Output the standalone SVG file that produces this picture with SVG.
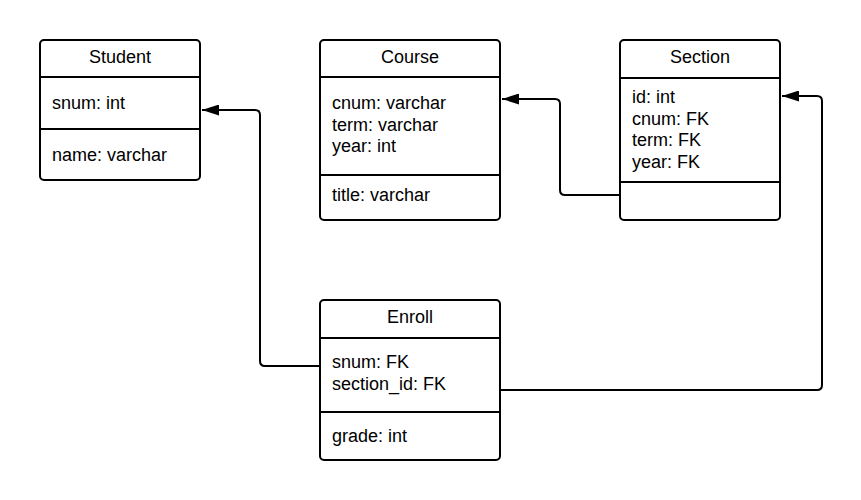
<svg xmlns="http://www.w3.org/2000/svg" width="861" height="500" viewBox="0 0 861 500">
<style>
.box{fill:#fff;stroke:#000;stroke-width:2}
.div{stroke:#000;stroke-width:2}
.t{font-family:"Liberation Sans",Arial,sans-serif;font-size:18px;fill:#000}
.h{text-anchor:middle}
.c{fill:none;stroke:#000;stroke-width:2}
</style>
<defs>
<marker id="arr" markerUnits="userSpaceOnUse" markerWidth="17" markerHeight="11" refX="17" refY="5.5" orient="auto">
<path d="M0,0 L17,5.5 L0,11 z" fill="#000"/>
</marker>
</defs>
<rect width="861" height="500" fill="#fff"/>
<g id="connectors">
<path class="c" d="M320,366 H265 Q260,366 260,361 V115 Q260,110 255,110 H202" marker-end="url(#arr)"/>
<path class="c" d="M620,195 H565 Q560,195 560,190 V104 Q560,99 555,99 H502" marker-end="url(#arr)"/>
<path class="c" d="M500,390 H817 Q822,390 822,385 V101 Q822,96 817,96 H782" marker-end="url(#arr)"/>
</g>
<g id="student">
<rect class="box" x="40" y="40" width="160" height="140" rx="4"/>
<line class="div" x1="40" y1="77" x2="200" y2="77"/>
<line class="div" x1="40" y1="129" x2="200" y2="129"/>
<text class="t h" x="120" y="63">Student</text>
<text class="t" x="52" y="109">snum: int</text>
<text class="t" x="52" y="161">name: varchar</text>
</g>
<g id="course">
<rect class="box" x="320" y="40" width="180" height="180" rx="4"/>
<line class="div" x1="320" y1="77" x2="500" y2="77"/>
<line class="div" x1="320" y1="175" x2="500" y2="175"/>
<text class="t h" x="410" y="63">Course</text>
<text class="t" x="332" y="109">cnum: varchar</text>
<text class="t" x="332" y="130.5">term: varchar</text>
<text class="t" x="332" y="152">year: int</text>
<text class="t" x="332" y="201">title: varchar</text>
</g>
<g id="section">
<rect class="box" x="620" y="40" width="160" height="180" rx="4"/>
<line class="div" x1="620" y1="78" x2="780" y2="78"/>
<line class="div" x1="620" y1="182" x2="780" y2="182"/>
<text class="t h" x="700" y="63">Section</text>
<text class="t" x="632" y="103">id: int</text>
<text class="t" x="632" y="124.5">cnum: FK</text>
<text class="t" x="632" y="146">term: FK</text>
<text class="t" x="632" y="167.5">year: FK</text>
</g>
<g id="enroll">
<rect class="box" x="320" y="300" width="180" height="160" rx="4"/>
<line class="div" x1="320" y1="338" x2="500" y2="338"/>
<line class="div" x1="320" y1="412" x2="500" y2="412"/>
<text class="t h" x="410" y="323">Enroll</text>
<text class="t" x="332" y="368">snum: FK</text>
<text class="t" x="332" y="390">section_id: FK</text>
<text class="t" x="332" y="442">grade: int</text>
</g>
</svg>
